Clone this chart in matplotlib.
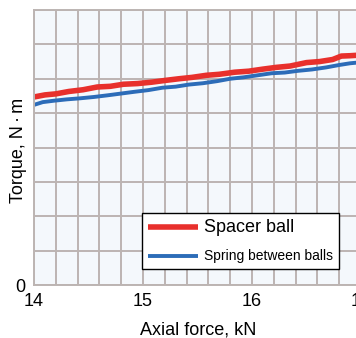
import matplotlib
matplotlib.use("Agg")
import matplotlib.pyplot as plt
from matplotlib.ticker import MultipleLocator

# axial force, kN
force_red = [14.00, 14.10, 14.20, 14.32, 14.45, 14.58, 14.70, 14.82, 14.95, 15.08,
             15.20, 15.33, 15.45, 15.58, 15.70, 15.84, 15.97, 16.10, 16.22, 16.35,
             16.50, 16.62, 16.74, 16.82, 16.90, 17.00]
torque_red = [5.47, 5.53, 5.56, 5.63, 5.68, 5.76, 5.78, 5.84, 5.86, 5.90,
              5.95, 6.00, 6.04, 6.10, 6.13, 6.19, 6.22, 6.28, 6.33, 6.37,
              6.47, 6.50, 6.56, 6.66, 6.67, 6.69]

force_blue = [14.00, 14.08, 14.18, 14.30, 14.42, 14.55, 14.68, 14.80, 14.92, 15.05,
              15.18, 15.30, 15.42, 15.55, 15.68, 15.80, 15.92, 16.05, 16.18, 16.30,
              16.42, 16.55, 16.68, 16.80, 16.90, 17.00]
torque_blue = [5.24, 5.32, 5.36, 5.40, 5.43, 5.47, 5.52, 5.57, 5.62, 5.67,
               5.74, 5.77, 5.83, 5.87, 5.93, 6.00, 6.04, 6.10, 6.16, 6.18,
               6.23, 6.27, 6.33, 6.40, 6.45, 6.48]

labels = ["Spacer ball", "Spring between balls"]

plt.rcParams["font.family"] = ["Liberation Sans", "DejaVu Sans"]

fig = plt.figure(figsize=(3.56, 3.38), dpi=100)
ax = fig.add_axes([34 / 356, 53 / 338, 327 / 356, 275 / 338])
ax.set_facecolor("#f4f8fc")

ax.set_xlim(14, 17)
ax.set_ylim(0, 8)
ax.xaxis.set_minor_locator(MultipleLocator(0.2))
ax.grid(True, which="both", color="#bcb4b2", linewidth=1.4)
ax.set_axisbelow(True)
for s in ax.spines.values():
    s.set_color("#bcb4b2")
    s.set_linewidth(1.4)

ax.set_xticks([14, 15, 16, 17])
ax.set_xticklabels(["14", "15", "16", "17"], fontsize=13)
ax.set_yticks(range(9))
ax.set_yticklabels(["0"] + [""] * 8, fontsize=13)
ax.tick_params(which="both", length=0)
ax.tick_params(axis="y", pad=6)
ax.tick_params(axis="x", pad=6)

l1, = ax.plot(force_red, torque_red, color="#e8302c", linewidth=4.0,
              solid_capstyle="butt")
l2, = ax.plot(force_blue, torque_blue, color="#2c6cb8", linewidth=2.8,
              solid_capstyle="butt")

ax.set_xlabel("Axial force, kN", fontsize=13, va="center")
ax.xaxis.set_label_coords((198 - 34) / 327, (285 - 330) / 275)
ax.set_ylabel("Torque, N\u2009\u2219\u2009m", fontsize=13, va="center")
ax.yaxis.set_label_coords((19 - 34) / 327, (285 - 150) / 275)

leg = ax.legend([l1, l2], labels, loc="upper left",
                bbox_to_anchor=((142 - 34) / 327, (285 - 213) / 275),
                borderaxespad=0, frameon=True, fancybox=False, framealpha=1,
                edgecolor="black", handlelength=3.6, borderpad=0.4,
                labelspacing=1.0, handletextpad=0.5)
leg.get_frame().set_linewidth(1.0)
t1, t2 = leg.get_texts()
t1.set_fontsize(13)
t2.set_fontsize(10)
t2.set_family(["Liberation Sans Narrow", "Liberation Sans", "DejaVu Sans"])

fig.savefig("out.png", dpi=100, facecolor="white")
